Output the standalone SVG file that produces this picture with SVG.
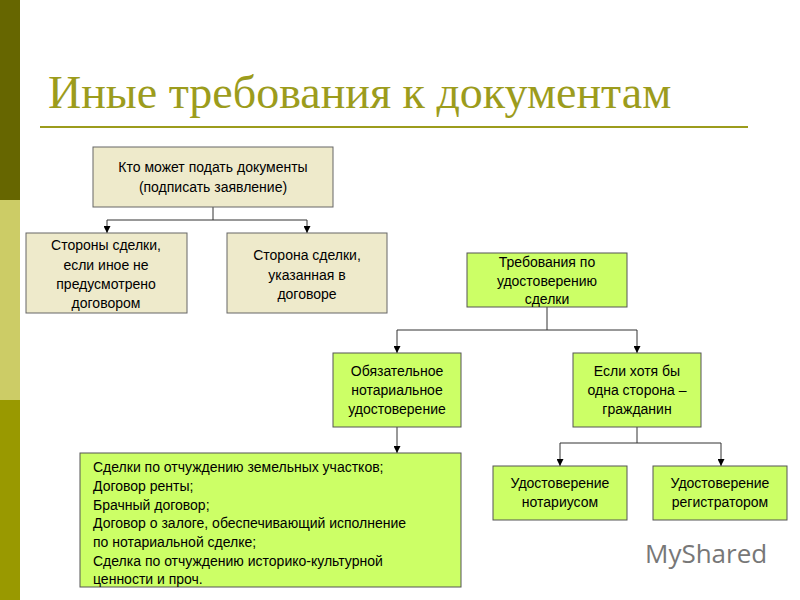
<svg xmlns="http://www.w3.org/2000/svg" width="800" height="600" viewBox="0 0 800 600">
<defs>
<style>
.t{font-family:"Liberation Sans",Arial,sans-serif;font-size:14px;fill:#000;text-anchor:middle}
.l{text-anchor:start}
.b1{fill:#eeeacb;stroke:#666;stroke-width:1}
.b2{fill:#ccff66;stroke:#555;stroke-width:1}
.c{fill:none;stroke:#333;stroke-width:1}
</style>
<marker id="a" viewBox="0 0 10 10" refX="10" refY="5" markerWidth="7" markerHeight="7" orient="auto"><path d="M0,0L10,5L0,10z" fill="#000"/></marker>
</defs>
<rect width="800" height="600" fill="#fff"/>
<rect x="0" y="0" width="20" height="200" fill="#666600"/>
<rect x="0" y="200" width="20" height="200" fill="#cccc66"/>
<rect x="0" y="400" width="20" height="200" fill="#999900"/>
<text x="48" y="108" font-family="Liberation Serif,serif" font-size="46" fill="#9c9c1c">Иные требования к документам</text>
<line x1="40" y1="127" x2="748" y2="127" stroke="#9c9c1c" stroke-width="2"/>
<g id="connectors">
<path class="c" d="M213,207V220M107,220H307M107,220V233" marker-end="url(#a)"/>
<path class="c" d="M307,220V233" marker-end="url(#a)"/>
<path class="c" d="M547,307V330M397,330H637M397,330V353" marker-end="url(#a)"/>
<path class="c" d="M637,330V353" marker-end="url(#a)"/>
<path class="c" d="M397,427V453" marker-end="url(#a)"/>
<path class="c" d="M637,427V443M560,443H721M560,443V466" marker-end="url(#a)"/>
<path class="c" d="M721,443V466" marker-end="url(#a)"/>
</g>
<g id="n1"><rect class="b1" x="93" y="147" width="240" height="60"/><text class="t" x="213" y="172">Кто может подать документы</text><text class="t" x="213" y="192">(подписать заявление)</text></g>
<g id="n2"><rect class="b1" x="26" y="233" width="161" height="80"/><text class="t" x="106" y="250">Стороны сделки,</text><text class="t" x="106" y="270">если иное не</text><text class="t" x="106" y="289">предусмотрено</text><text class="t" x="106" y="308">договором</text></g>
<g id="n3"><rect class="b1" x="227" y="233" width="160" height="80"/><text class="t" x="307" y="260">Сторона сделки,</text><text class="t" x="307" y="280">указанная в</text><text class="t" x="307" y="299">договоре</text></g>
<g id="n4"><rect class="b2" x="467" y="253" width="160" height="54"/><text class="t" x="547" y="267">Требования по</text><text class="t" x="547" y="286">удостоверению</text><text class="t" x="547" y="304">сделки</text></g>
<g id="n5"><rect class="b2" x="333" y="353" width="128" height="74"/><text class="t" x="397" y="376">Обязательное</text><text class="t" x="397" y="395">нотариальное</text><text class="t" x="397" y="414">удостоверение</text></g>
<g id="n6"><rect class="b2" x="573" y="353" width="128" height="74"/><text class="t" x="637" y="376">Если хотя бы</text><text class="t" x="637" y="395">одна сторона –</text><text class="t" x="637" y="414">гражданин</text></g>
<g id="n7"><rect class="b2" x="80" y="453" width="381" height="134"/>
<text class="t l" x="93" y="472">Сделки по отчуждению земельных участков;</text>
<text class="t l" x="93" y="491">Договор ренты;</text>
<text class="t l" x="93" y="510">Брачный договор;</text>
<text class="t l" x="93" y="528">Договор о залоге, обеспечивающий исполнение</text>
<text class="t l" x="93" y="547">по нотариальной сделке;</text>
<text class="t l" x="93" y="566">Сделка по отчуждению историко-культурной</text>
<text class="t l" x="93" y="584">ценности и проч.</text></g>
<g id="n8"><rect class="b2" x="493" y="466" width="134" height="54"/><text class="t" x="560" y="488">Удостоверение</text><text class="t" x="560" y="507">нотариусом</text></g>
<g id="n9"><rect class="b2" x="653" y="466" width="134" height="54"/><text class="t" x="720" y="488">Удостоверение</text><text class="t" x="720" y="507">регистратором</text></g>
<text x="645" y="563" font-family="Open Sans,Liberation Sans,sans-serif" font-size="26" fill="#777">MyShared</text>
</svg>
